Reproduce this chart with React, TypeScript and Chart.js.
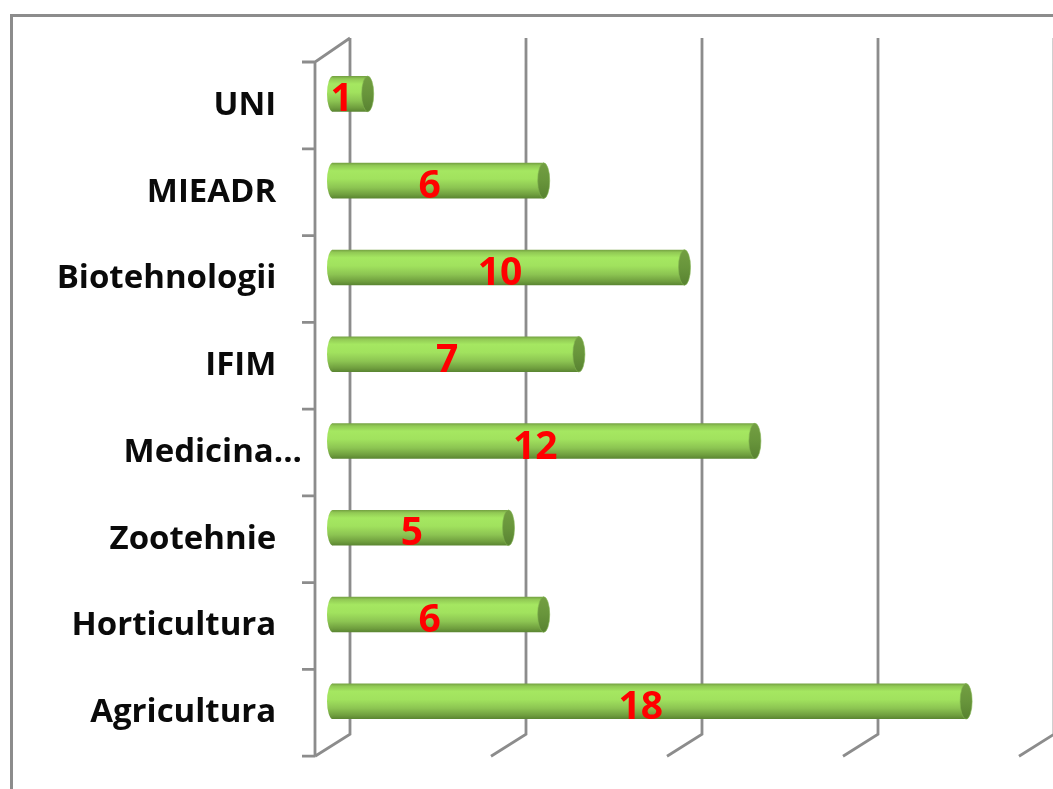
import React, { useEffect, useRef } from 'react';
import { Chart, registerables } from 'chart.js';

Chart.register(...registerables);

const categories = ['UNI', 'MIEADR', 'Biotehnologii', 'IFIM', 'Medicina...', 'Zootehnie', 'Horticultura', 'Agricultura'];
const values = [1, 6, 10, 7, 12, 5, 6, 18];
const gridValues = [0, 5, 10, 15, 20];

const W = 1053;
const H = 789;
const DEPTH_X = 35;
const DEPTH_Y = -24;
const GRID_COLOR = '#8c8c8c';
const BAR_H = 35;

function bodyGradient(ctx: CanvasRenderingContext2D, yc: number, h: number) {
  const g = ctx.createLinearGradient(0, yc - h / 2, 0, yc + h / 2);
  g.addColorStop(0, '#76a443');
  g.addColorStop(0.07, '#91c954');
  g.addColorStop(0.22, '#a5e761');
  g.addColorStop(0.45, '#a1e25e');
  g.addColorStop(0.7, '#8cc452');
  g.addColorStop(0.9, '#6f9e3e');
  g.addColorStop(1, '#5b8632');
  return g;
}

const threeDPlugin = {
  id: 'threeD',
  beforeDatasetsDraw(chart: any) {
    const { ctx, chartArea } = chart;
    const { left, top, bottom } = chartArea;
    const xs = chart.scales.x;
    const ys = chart.scales.y;
    ctx.save();
    // outer frame
    ctx.strokeStyle = GRID_COLOR;
    ctx.lineWidth = 3;
    ctx.strokeRect(11.5, 15.5, 1200, 900);
    // back wall gridlines + floor slants
    ctx.lineWidth = 2.8;
    ctx.beginPath();
    for (const v of gridValues) {
      const px = xs.getPixelForValue(v);
      ctx.moveTo(px + DEPTH_X, top + DEPTH_Y);
      ctx.lineTo(px + DEPTH_X, bottom - 22);
      ctx.lineTo(px, bottom);
    }
    // front left axis
    ctx.moveTo(left + DEPTH_X, top + DEPTH_Y);
    ctx.lineTo(left, top);
    ctx.lineTo(left, bottom);
    for (let i = 0; i <= categories.length; i++) {
      const y = ys.getPixelForValue(i - 0.5);
      ctx.moveTo(left - 13, y);
      ctx.lineTo(left, y);
    }
    ctx.stroke();
    ctx.restore();
    // shift bars to mid depth
    ctx.save();
    ctx.translate(DEPTH_X / 2, -11.5);
  },
  afterDatasetsDraw(chart: any) {
    const { ctx } = chart;
    const meta = chart.getDatasetMeta(0);
    meta.data.forEach((el: any) => {
      const { x, y, base, height } = el.getProps(['x', 'y', 'base', 'height'], true);
      if (![x, y, base, height].every((n) => Number.isFinite(n))) return;
      const ry = height / 2;
      const rx = 6;
      // rounded left end of the cylinder body
      ctx.beginPath();
      ctx.ellipse(base + 0.5, y, rx, ry, 0, Math.PI / 2, (3 * Math.PI) / 2);
      ctx.closePath();
      ctx.fillStyle = bodyGradient(ctx, y, height);
      ctx.fill();
      // right end cap
      const cg = ctx.createLinearGradient(0, y - ry, 0, y + ry);
      cg.addColorStop(0, '#739f42');
      cg.addColorStop(0.5, '#68953b');
      cg.addColorStop(1, '#588231');
      ctx.beginPath();
      ctx.ellipse(x, y, rx, ry, 0, 0, Math.PI * 2);
      ctx.fillStyle = cg;
      ctx.fill();
      ctx.strokeStyle = 'rgba(130,180,80,0.6)';
      ctx.lineWidth = 1;
      ctx.stroke();
    });
    ctx.restore();
    // value labels
    ctx.save();
    ctx.font = 'bold 39px "Open Sans"';
    ctx.fillStyle = '#ff0000';
    ctx.textAlign = 'center';
    ctx.textBaseline = 'middle';
    meta.data.forEach((el: any, i: number) => {
      const { x, y, base } = el.getProps(['x', 'y', 'base'], true);
      ctx.fillText(String(values[i]), (x + base) / 2 + 9, y - 5);
    });
    ctx.restore();
  },
};

export default function App() {
  const canvasRef = useRef<HTMLCanvasElement | null>(null);

  useEffect(() => {
    const canvas = canvasRef.current;
    if (!canvas) return;
    const chart = new Chart(canvas, {
      type: 'bar',
      data: {
        labels: categories,
        datasets: [
          {
            data: values,
            backgroundColor: (c: any) => {
              const ys = c.chart.scales && c.chart.scales.y;
              if (!ys || c.dataIndex === undefined) return '#9ad85a';
              const y = ys.getPixelForValue(c.dataIndex);
              if (!Number.isFinite(y)) return '#9ad85a';
              return bodyGradient(c.chart.ctx, y, BAR_H);
            },
            borderWidth: 0,
            barPercentage: 0.41,
            categoryPercentage: 1,
            clip: false as any,
          },
        ],
      },
      options: {
        indexAxis: 'y',
        responsive: false,
        animation: false,
        devicePixelRatio: 1,
        layout: { padding: { top: 62, bottom: 29, left: 0, right: 34 } },
        plugins: {
          legend: { display: false },
          tooltip: { enabled: false },
          title: { display: false },
        },
        scales: {
          x: {
            display: false,
            min: 0,
            max: 20,
          },
          y: {
            grid: { display: false, drawTicks: false },
            border: { display: false },
            ticks: {
              autoSkip: false,
              padding: 13,
              color: '#0a0a0a',
              font: { family: '"Open Sans"', size: 33, weight: 'bold' },
              callback: (_v: any, index: number) => {
                const l = categories[index];
                return l.endsWith('...') ? l : l + '   ';
              },
            },
            afterFit: (scale: any) => {
              scale.width = 315;
            },
          },
        },
      },
      plugins: [threeDPlugin],
    } as any);
    return () => chart.destroy();
  }, []);

  return (
    <div style={{ position: 'fixed', left: 0, top: 0, width: W, height: H, background: '#fff' }}>
      <canvas ref={canvasRef} width={W} height={H} style={{ display: 'block' }} />
    </div>
  );
}
